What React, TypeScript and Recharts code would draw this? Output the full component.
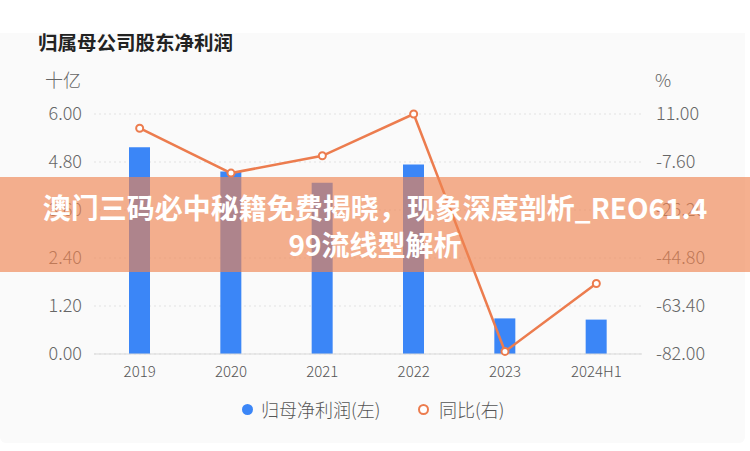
import React from 'react';
import { ComposedChart, Bar, Line, XAxis, YAxis, CartesianGrid } from 'recharts';

const categories = ['2019', '2020', '2021', '2022', '2023', '2024H1'];
const netProfit = [5.17, 4.56, 4.28, 4.74, 0.89, 0.86];
const yoyGrowth = [5.48, -11.9, -5.2, 11.0, -81.0, -54.7];
const leftTicks = [0, 1.2, 2.4, 3.6, 4.8, 6.0];
const rightTicks = [-82, -63.4, -44.8, -26.2, -7.6, 11];

const title = '归属母公司股东净利润';
const leftUnit = '十亿';
const rightUnit = '%';
const legendBar = '归母净利润(左)';
const legendLine = '同比(右)';
const bannerLine1 = '澳门三码必中秘籍免费揭晓，现象深度剖析_REO61.4';
const bannerLine2 = '99流线型解析';

const data = categories.map((c, i) => ({ name: c, profit: netProfit[i], yoy: yoyGrowth[i] }));

const FONT = '"Noto Sans CJK SC", "Noto Sans", sans-serif';
const BLUE = '#3b86f7';
const ORANGE = '#ec7c4e';

export default function App() {
  return (
    <div style={{ position: 'absolute', left: 0, top: 0, width: 750, height: 451, background: '#fff', fontFamily: FONT, overflow: 'hidden' }}>
      <div style={{ position: 'absolute', left: 0, top: 33, width: 745, height: 410, background: '#fafafa', borderRadius: '0 0 6px 6px' }} />
      <div style={{ position: 'absolute', left: 38, top: 29, fontSize: 19.5, fontWeight: 700, color: '#222', lineHeight: '26px', whiteSpace: 'nowrap' }}>{title}</div>
      <div style={{ position: 'absolute', left: 45, top: 67, fontSize: 18, fontWeight: 300, color: '#666', lineHeight: '24px' }}>{leftUnit}</div>
      <div style={{ position: 'absolute', left: 655, top: 67, fontSize: 18, fontWeight: 300, color: '#666', lineHeight: '24px' }}>{rightUnit}</div>
      <div style={{ position: 'absolute', left: 0, top: 0 }}>
        <ComposedChart width={750} height={451} data={data} margin={{ top: 114, right: 0, bottom: 67, left: 0 }} barCategoryGap={0}>
          <CartesianGrid yAxisId="left" vertical={false} stroke="#e2e2e2" strokeDasharray="2 3" />
          <XAxis dataKey="name" axisLine={{ stroke: '#d9d9d9' }} tickLine={false} tickSize={0} tickMargin={12} height={30}
            tick={{ fill: '#555', fontSize: 15, fontFamily: FONT, fontWeight: 300 }} />
          <YAxis yAxisId="left" domain={[0, 6]} ticks={leftTicks} width={94} axisLine={false} tickLine={false} tickSize={0} tickMargin={12}
            tickFormatter={(v: number) => v.toFixed(2)} tick={{ fill: '#666', fontSize: 18, fontFamily: FONT, fontWeight: 300 }} />
          <YAxis yAxisId="right" orientation="right" domain={[-82, 11]} ticks={rightTicks} width={108} axisLine={false} tickLine={false} tickSize={0} tickMargin={14}
            tickFormatter={(v: number) => v.toFixed(2)} tick={{ fill: '#666', fontSize: 18, fontFamily: FONT, fontWeight: 300, textAnchor: 'start' }} />
          <Bar yAxisId="left" dataKey="profit" fill={BLUE} barSize={21} isAnimationActive={false} />
          <Line yAxisId="right" dataKey="yoy" stroke={ORANGE} strokeWidth={2.5} type="linear"
            dot={{ r: 3.5, stroke: ORANGE, strokeWidth: 2, fill: '#fff' }} activeDot={false} isAnimationActive={false} />
        </ComposedChart>
      </div>
      <div style={{ position: 'absolute', left: 242, top: 404, width: 11, height: 11, borderRadius: '50%', background: BLUE }} />
      <div style={{ position: 'absolute', left: 261, top: 397, fontSize: 18, fontWeight: 300, color: '#555', lineHeight: '24px', whiteSpace: 'nowrap' }}>{legendBar}</div>
      <div style={{ position: 'absolute', left: 418, top: 404, width: 7, height: 7, borderRadius: '50%', border: `2.5px solid ${ORANGE}`, background: '#fff' }} />
      <div style={{ position: 'absolute', left: 439, top: 397, fontSize: 18, fontWeight: 300, color: '#555', lineHeight: '24px', whiteSpace: 'nowrap' }}>{legendLine}</div>
      <div style={{ position: 'absolute', left: 0, top: 177, width: 750, height: 95, background: 'rgba(240,132,80,0.64)' }} />
      <div style={{ position: 'absolute', left: 0, top: 189, width: 750, textAlign: 'center', color: '#fff', fontSize: 28, fontWeight: 700, lineHeight: '37px', whiteSpace: 'nowrap' }}>
        <div>{bannerLine1}</div>
        <div>{bannerLine2}</div>
      </div>
    </div>
  );
}
